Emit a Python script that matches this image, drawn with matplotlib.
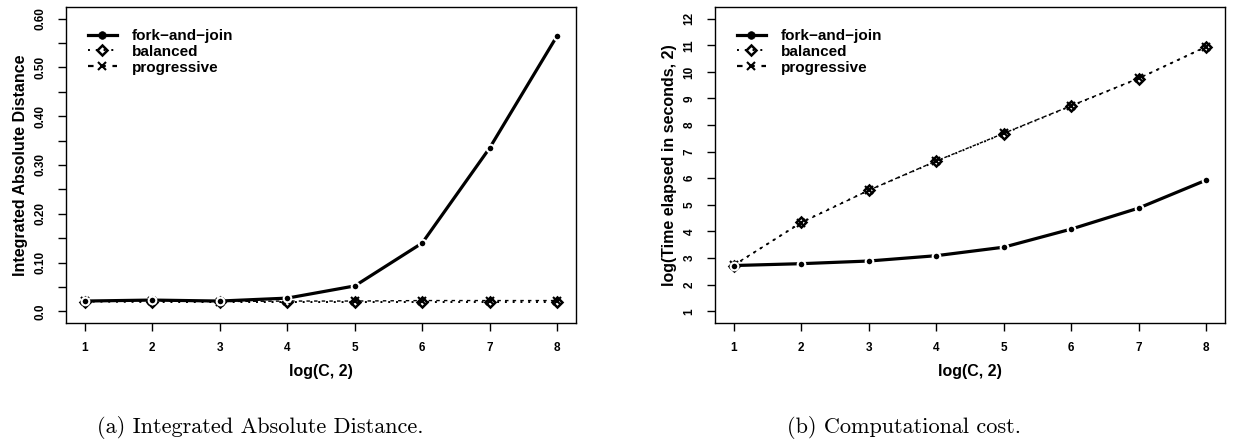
import matplotlib.pyplot as plt
import numpy as np

# log(C, 2)
logc = [1, 2, 3, 4, 5, 6, 7, 8]

# (a) integrated absolute distance
iad_fork = [0.021, 0.023, 0.021, 0.027, 0.052, 0.140, 0.335, 0.565]
iad_bal = [0.020, 0.019, 0.019, 0.019, 0.019, 0.019, 0.019, 0.019]
iad_prog = [0.021, 0.021, 0.020, 0.021, 0.021, 0.022, 0.022, 0.022]

# (b) log(time elapsed in seconds, 2)
time_fork = [2.72, 2.79, 2.89, 3.09, 3.41, 4.09, 4.88, 5.93]
time_bal = [2.72, 4.35, 5.55, 6.64, 7.68, 8.72, 9.75, 10.94]
time_prog = [2.74, 4.33, 5.55, 6.65, 7.69, 8.73, 9.76, 10.95]

names = ["fork\u2212and\u2212join", "balanced", "progressive"]

plt.rcParams['font.family'] = ['Liberation Sans', 'DejaVu Sans']
plt.rcParams['font.weight'] = 'bold'

fig = plt.figure(figsize=(12.34, 4.43), dpi=100)
axa = fig.add_axes([0.0535, 0.2709, 0.4133, 0.7133])
axb = fig.add_axes([0.5794, 0.2709, 0.4133, 0.7133])


def draw(ax, fork, bal, prog):
    ax.plot(logc, fork, color="black", lw=2.3, marker="o", ms=5.5,
            mfc="black", mec="white", mew=1.5, label=names[0], zorder=4)
    ax.plot(logc, bal, color="black", lw=1.4, ls=(0, (1, 3)), marker="D",
            ms=5, mfc="none", mec="black", mew=1.8, label=names[1], zorder=3)
    ax.plot(logc, prog, color="black", lw=1.0, ls=(0, (2.5, 3)), marker="x",
            ms=5.5, mec="black", mew=1.5, label=names[2], zorder=3)
    ax.set_xlim(0.72, 8.28)
    ax.set_xticks(logc)
    ax.set_xlabel("log(C, 2)", fontsize=11.5, fontweight="bold", labelpad=7)
    ax.tick_params(axis="both", direction="out", length=6, width=1,
                   labelsize=8.5, pad=8)
    ax.tick_params(axis="y", labelrotation=90)
    for s in ax.spines.values():
        s.set_linewidth(1.0)
    leg = ax.legend(loc="upper left", bbox_to_anchor=(0.031, 0.95),
                    frameon=False, fontsize=11, handlelength=1.9,
                    handletextpad=1.0, labelspacing=0.12, borderaxespad=0)
    for t in leg.get_texts():
        t.set_fontweight("bold")
    leg.legend_handles[0].set_markeredgecolor("black")
    leg.legend_handles[0].set_markeredgewidth(0.5)
    leg.legend_handles[2].set_linewidth(1.6)


draw(axa, iad_fork, iad_bal, iad_prog)
axa.set_ylim(-0.024, 0.624)
axa.set_yticks(np.arange(0, 0.61, 0.05))
axa.set_yticklabels(["0.0", "", "0.10", "", "0.20", "", "0.30", "", "0.40",
                     "", "0.50", "", "0.60"])
axa.set_ylabel("Integrated Absolute Distance", fontsize=11.5,
               fontweight="bold", labelpad=5)

draw(axb, time_fork, time_bal, time_prog)
axb.set_ylim(0.56, 12.44)
axb.set_yticks(range(1, 13))
axb.set_ylabel("log(Time elapsed in seconds, 2)", fontsize=11.5,
               fontweight="bold", labelpad=5)

for t in axa.get_yticklabels() + axb.get_yticklabels():
    t.set_va("center")

fig.text(0.211, 0.036, "(a) Integrated Absolute Distance.", family="cmr10",
         fontsize=16, ha="center", va="center", fontweight="normal")
fig.text(0.7326, 0.036, "(b) Computational cost.", family="cmr10",
         fontsize=16, ha="center", va="center", fontweight="normal")

fig.savefig("out.png", dpi=100)
